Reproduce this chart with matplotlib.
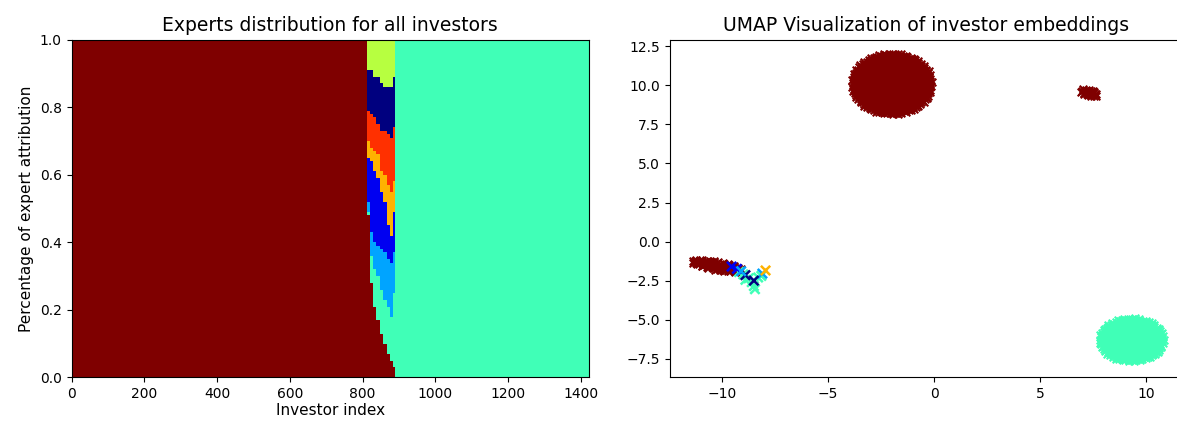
import numpy as np
import matplotlib.pyplot as plt

# ---- left panel: expert shares per investor (stacked bottom -> top) ----
expert_colors = ['#7f0000', '#40ffb7', '#00a4ff', '#0000f1',
                 '#ffb200', '#ff3000', '#00007f', '#b7ff40']

investor_idx = [0, 811, 820, 829, 838, 847, 857, 866, 875, 884, 888, 1421]
share_darkred = [1, .48, .28, .21, .17, .13, .10, .07, .05, .03, 0, 0]
share_aqua    = [0, .01, .08, .11, .13, .13, .13, .14, .13, .22, 1, 1]
share_sky     = [0, .03, .07, .08, .09, .12, .14, .14, .16, .12, 0, 0]
share_blue    = [0, .13, .21, .21, .20, .17, .15, .10, .08, .12, 0, 0]
share_orange  = [0, .05, .04, .06, .07, .06, .08, .12, .13, .09, 0, 0]
share_red     = [0, .09, .10, .10, .09, .12, .13, .15, .16, .16, 0, 0]
share_navy    = [0, .12, .13, .12, .14, .14, .13, .14, .15, .15, 0, 0]
share_yellow  = [0, .09, .09, .11, .11, .13, .14, .14, .14, .11, 0, 0]

# ---- right panel: UMAP clusters (centre, half-size, slope) ----
cluster_x = [-2.0, 7.3, 9.31, -10.25]
cluster_y = [10.1, 9.53, -6.28, -1.55]
cluster_rx = [1.9, 0.38, 1.53, 1.2]
cluster_ry = [1.95, 0.23, 1.39, 0.28]
cluster_slope = [0.0, -0.3, 0.0, -0.25]
cluster_color = ['#7f0000', '#7f0000', '#40ffb7', '#7f0000']

# mixed-expert investors near the small streak
mix_x = [-9.0, -8.75, -8.6, -8.5, -8.45, -8.3, -8.15, -9.2, -8.9,
         -9.55, -9.3, -8.9, -8.1, -9.1, -7.95, -8.5]
mix_y = [-2.1, -2.35, -2.6, -2.85, -3.05, -2.3, -2.2, -1.95, -2.45,
         -1.6, -1.75, -2.15, -2.05, -1.9, -1.85, -2.5]
mix_c = ['#40ffb7'] * 9 + ['#0000f1', '#0000f1', '#00007f', '#00a4ff',
                           '#00a4ff', '#ffb200', '#00007f']

fig = plt.figure(figsize=(11.77, 4.24), dpi=100)

ax1 = fig.add_axes([0.0608, 0.1097, 0.4393, 0.797])
ax1.stackplot(investor_idx, share_darkred, share_aqua, share_sky, share_blue,
              share_orange, share_red, share_navy, share_yellow,
              colors=expert_colors, step='post', linewidth=0)
ax1.set_xlim(0, 1421)
ax1.set_ylim(0, 1)
ax1.set_title('Experts distribution for all investors', fontsize=13.5)
ax1.set_xlabel('Investor index', fontsize=11, labelpad=1)
ax1.set_ylabel('Percentage of expert attribution', fontsize=11)
ax1.tick_params(labelsize=10)

ax2 = fig.add_axes([0.569, 0.1097, 0.436, 0.797])
golden = np.pi * (3 - np.sqrt(5))
for cx, cy, rx, ry, sl, col in zip(cluster_x, cluster_y, cluster_rx,
                                   cluster_ry, cluster_slope, cluster_color):
    # fill each cluster's ellipse with evenly spread points
    n = int(np.pi * rx * ry / (0.11 * 0.13)) + 8
    k = np.arange(n)
    r = np.sqrt((k + 0.5) / n)
    u = rx * r * np.cos(k * golden)
    v = ry * r * np.sin(k * golden)
    ax2.scatter(cx + u, cy + v + sl * u, marker='x', s=30, c=col, linewidths=1.5)
ax2.scatter(mix_x, mix_y, marker='x', s=45, c=mix_c, linewidths=1.8)
ax2.set_xlim(-12.47, 11.73)
ax2.set_ylim(-8.70, 12.93)
ax2.set_title('UMAP Visualization of investor embeddings', fontsize=13.5)
ax2.tick_params(labelsize=10)

fig.savefig('out.png', dpi=100)
